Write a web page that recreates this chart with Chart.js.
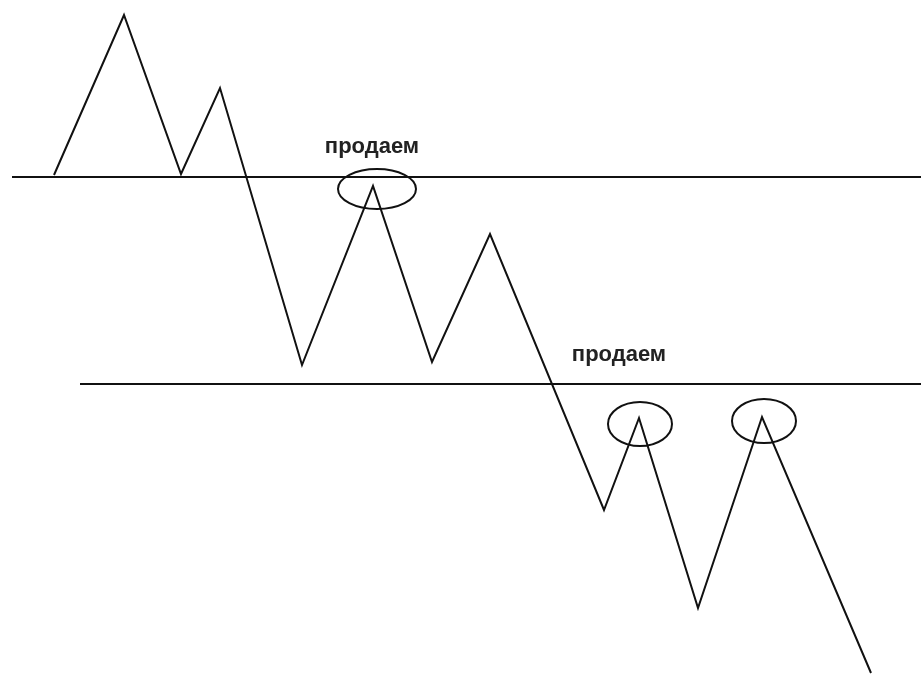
<!DOCTYPE html>
<html>
<head>
<meta charset="utf-8">
<script src="https://cdn.jsdelivr.net/npm/chart.js@4/dist/chart.umd.min.js"></script>
<style>
  html, body { margin: 0; padding: 0; background: #fff; }
  #chartCanvas { display: block; }
</style>
</head>
<body>
<canvas id="chartCanvas" width="921" height="674"></canvas>
<script>
// Price path (time, price)
const pathTimes  = [54, 124, 181, 220, 302, 373, 432, 490, 604, 639, 698, 762, 871];
const pathPrices = [499, 659, 500, 586, 309, 488, 312, 440, 164, 256, 66, 257, 1];

// Horizontal levels
const levelPrices = [497, 290];
const levelStarts = [12, 80];
const levelEnd = 921;

// Circled tops (center time, center price, half width, half height)
const markTimes  = [377, 640, 764];
const markPrices = [485, 250, 253];
const markHalfW  = [39, 32, 32];
const markHalfH  = [20, 22, 22];

// Labels
const labelTexts  = ["продаем", "продаем"];
const labelTimes  = [372, 619];
const labelPrices = [521, 313];

let pathData = [];
for (let i = 0; i < pathTimes.length; i++)
{
  pathData.push({x: pathTimes[i], y: pathPrices[i]});
}

let datasets = [{
  data: pathData,
  borderColor: '#111',
  borderWidth: 2,
  pointRadius: 0,
  tension: 0
}];

for (let i = 0; i < levelPrices.length; i++)
{
  datasets.push({
    data: [{x: levelStarts[i], y: levelPrices[i]}, {x: levelEnd, y: levelPrices[i]}],
    borderColor: '#111',
    borderWidth: 2,
    pointRadius: 0
  });
}

// draws the circles and the labels through the scales
const marksPlugin = {
  id: 'marks',
  afterDatasetsDraw(chart)
  {
    let ctx = chart.ctx;
    let xs = chart.scales.x;
    let ys = chart.scales.y;

    ctx.save();
    ctx.strokeStyle = '#111';
    ctx.lineWidth = 2;
    for (let i = 0; i < markTimes.length; i++)
    {
      let cx = xs.getPixelForValue(markTimes[i]);
      let cy = ys.getPixelForValue(markPrices[i]);
      let rx = Math.abs(xs.getPixelForValue(markTimes[i] + markHalfW[i]) - cx);
      let ry = Math.abs(ys.getPixelForValue(markPrices[i] + markHalfH[i]) - cy);
      ctx.beginPath();
      ctx.ellipse(cx, cy, rx, ry, 0, 0, Math.PI * 2);
      ctx.stroke();
    }

    ctx.fillStyle = '#222';
    ctx.font = 'bold 22px "Liberation Sans", Arial, sans-serif';
    ctx.textAlign = 'center';
    ctx.textBaseline = 'alphabetic';
    for (let i = 0; i < labelTexts.length; i++)
    {
      ctx.fillText(labelTexts[i], xs.getPixelForValue(labelTimes[i]), ys.getPixelForValue(labelPrices[i]));
    }
    ctx.restore();
  }
};

new Chart(document.getElementById('chartCanvas'), {
  type: 'line',
  data: { datasets: datasets },
  options: {
    responsive: false,
    animation: false,
    devicePixelRatio: 1,
    layout: { padding: 0 },
    plugins: {
      legend: { display: false },
      tooltip: { enabled: false }
    },
    scales: {
      x: { type: 'linear', min: 0, max: 921, display: false },
      y: { type: 'linear', min: 0, max: 674, display: false }
    }
  },
  plugins: [marksPlugin]
});
</script>
</body>
</html>
